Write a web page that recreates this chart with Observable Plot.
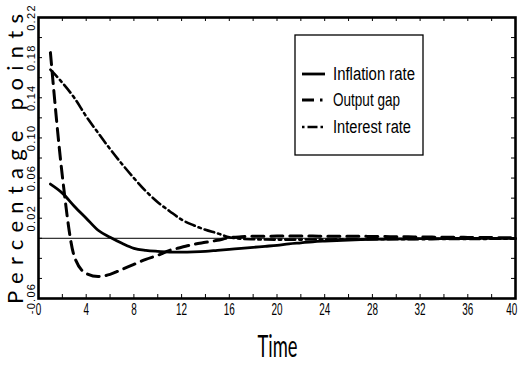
<!DOCTYPE html>
<html><head><meta charset="utf-8">
<script src="https://cdn.jsdelivr.net/npm/d3@7"></script>
<script src="https://cdn.jsdelivr.net/npm/@observablehq/plot@0.6"></script>
<style>
body{margin:0;background:#fff}
#c{position:relative;width:518px;height:366px;overflow:hidden}
#c svg{display:block}
</style>
</head><body><div id="c"></div>
<script>
const time = [1,2,3,4,5,6,7,8,9,10,11,12,13,14,15,16,17,18,19,20,21,22,23,24,25,26,27,28,29,30,31,32,33,34,35,36,37,38,39,40];
const inflation = [0.054,0.045,0.032,0.020,0.008,0.001,-0.005,-0.010,-0.012,-0.013,-0.0137,-0.0137,-0.0135,-0.013,-0.012,-0.011,-0.010,-0.009,-0.008,-0.007,-0.0055,-0.0045,-0.0035,-0.0028,-0.0022,-0.0017,-0.0013,-0.001,-0.0008,-0.0006,-0.0005,-0.0004,-0.0003,-0.0003,-0.0002,-0.0002,-0.0001,-0.0001,-0.0001,-0.0001];
const outputGap = [0.185,0.062,-0.018,-0.035,-0.038,-0.036,-0.031,-0.026,-0.021,-0.017,-0.012,-0.009,-0.006,-0.004,-0.002,0.0005,0.0015,0.002,0.002,0.0022,0.0022,0.0022,0.0022,0.002,0.002,0.002,0.002,0.0018,0.0017,0.0016,0.0015,0.0013,0.0012,0.001,0.001,0.0009,0.0008,0.0007,0.0006,0.0005];
const interestRate = [0.168,0.155,0.140,0.1215,0.105,0.089,0.074,0.060,0.047,0.036,0.027,0.0186,0.013,0.0085,0.005,0.001,-0.0005,-0.001,-0.0012,-0.0013,-0.0013,-0.0013,-0.0012,-0.0012,-0.0011,-0.0011,-0.001,-0.001,-0.001,-0.0009,-0.0009,-0.0008,-0.0008,-0.0007,-0.0007,-0.0006,-0.0006,-0.0005,-0.0005,-0.0005];
const seriesNames = ["Inflation rate","Output gap","Interest rate"];
const xTickLabels = [0,4,8,12,16,20,24,28,32,36,40];
const xMinorTicks = [2,4,6,8,10,12,14,16,18,20,22,24,26,28,30,32,34,36,38];
const yTickLabels = [0.22,0.18,0.14,0.10,0.06,0.02,-0.06];
const yMinorTicks = [-0.04,-0.02,0,0.02,0.04,0.06,0.08,0.10,0.12,0.14,0.16,0.18,0.20];
const xTitle = "Time";
const yTitle = "Percentage points";

const mk = vals => time.map((t,i)=>({t, v: vals[i]}));
const fmt = d => d3.format(".2f")(d).replace("−","-");
const sans = "'Liberation Sans',Arial,sans-serif";

const W = 518, H = 366, mL = 38, mR = 3, mT = 17, mB = 68;
const innerH = H - mT - mB, innerW = W - mL - mR;

const plot = Plot.plot({
  width: W, height: H,
  marginLeft: mL, marginRight: mR, marginTop: mT, marginBottom: mB,
  x: {domain: [0, 40], axis: null},
  y: {domain: [-0.06, 0.22], axis: null},
  style: {background: "white", color: "black", fontFamily: sans},
  marks: [
    Plot.ruleY([0], {strokeWidth: 1}),
    Plot.line(mk(interestRate), {x: "t", y: "v", strokeWidth: 2.6, strokeDasharray: "10,4,2.5,4", curve: "monotone-x"}),
    Plot.line(mk(outputGap), {x: "t", y: "v", strokeWidth: 3, strokeDasharray: "12,7", curve: "monotone-x"}),
    Plot.line(mk(inflation), {x: "t", y: "v", strokeWidth: 2.8, curve: "monotone-x"}),
    Plot.tickX(xMinorTicks, {x: d => d, insetTop: innerH - 4, strokeWidth: 1}),
    Plot.tickX(xMinorTicks, {x: d => d, insetBottom: innerH - 4, strokeWidth: 1}),
    Plot.tickY(yMinorTicks, {y: d => d, insetRight: innerW - 4, strokeWidth: 1}),
    Plot.tickY(yMinorTicks, {y: d => d, insetLeft: innerW - 4, strokeWidth: 1}),
    Plot.frame({strokeWidth: 2.6}),
    Plot.axisX({ticks: xTickLabels, tickSize: 0, tickPadding: 5, fontSize: 16, label: null, tickFormat: d => String(d)}),
    Plot.text(yTickLabels, {y: d => d, text: d => fmt(d), frameAnchor: "left", dx: -7, rotate: -90, fontSize: 11, fill: "black", textAnchor: "middle", lineAnchor: "middle"})
  ]
});
document.getElementById("c").appendChild(plot);

const svg = d3.select(plot);
// y tick labels: wide letter spacing
svg.selectAll("g[aria-label='text'] text").style("letter-spacing", "1.3px");
// x tick labels: condensed glyphs
svg.selectAll("g[aria-label='x-axis tick label'] text").each(function() {
  const t = d3.select(this);
  t.attr("transform", (t.attr("transform") || "") + " scale(0.62,1)");
  if (t.text() === "40") t.attr("text-anchor", "end").attr("dx", "3");
});

// axis titles
svg.append("text")
  .attr("x", 277.5).attr("y", 357)
  .attr("text-anchor", "middle").attr("fill", "black")
  .attr("font-family", "Lato,'Liberation Sans',sans-serif").attr("font-weight", 400).attr("font-size", 30)
  .attr("textLength", 40).attr("lengthAdjust", "spacingAndGlyphs")
  .text(xTitle);
svg.append("text")
  .attr("transform", "translate(23,159) rotate(-90)")
  .attr("text-anchor", "middle").attr("fill", "black")
  .attr("font-family", "Lato,'DejaVu Sans',sans-serif").attr("font-weight", 400).attr("font-size", 22)
  .attr("textLength", 290).attr("lengthAdjust", "spacing")
  .text(yTitle);

// legend
const lg = svg.append("g");
lg.append("rect").attr("x", 295).attr("y", 35).attr("width", 128).attr("height", 120)
  .attr("fill", "white").attr("stroke", "black").attr("stroke-width", 1.3);
const legendRows = [
  {name: seriesNames[0], y: 74, dash: null, w: 2.8, len: 82},
  {name: seriesNames[1], y: 100, dash: "12,6,2.5,20", w: 3, len: 67},
  {name: seriesNames[2], y: 127, dash: "2.5,3,10,3,2.5,2,2.5,20", w: 2.6, len: 78}
];
legendRows.forEach(r => {
  const ln = lg.append("line").attr("x1", 302).attr("x2", 325).attr("y1", r.y).attr("y2", r.y)
    .attr("stroke", "black").attr("stroke-width", r.w);
  if (r.dash) ln.attr("stroke-dasharray", r.dash);
  lg.append("text").attr("x", 333).attr("y", r.y).attr("dy", "0.36em")
    .attr("text-anchor", "start").attr("fill", "black")
    .attr("font-family", sans).attr("font-size", 18)
    .attr("textLength", r.len).attr("lengthAdjust", "spacingAndGlyphs")
    .text(r.name);
});
</script>
</body></html>
